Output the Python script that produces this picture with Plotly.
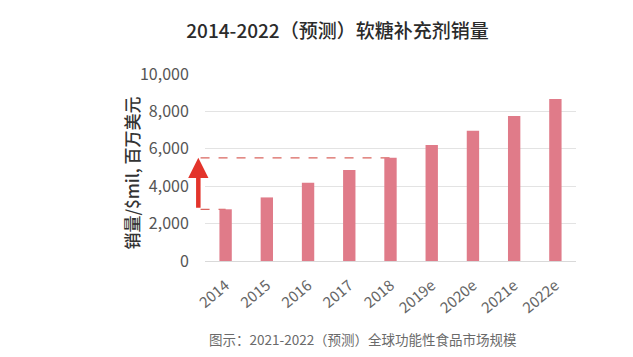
import plotly.graph_objects as go

categories = ["2014", "2015", "2016", "2017", "2018", "2019e", "2020e", "2021e", "2022e"]
sales = [2765, 3400, 4180, 4870, 5520, 6200, 6970, 7750, 8660]
y_ticks = [0, 2000, 4000, 6000, 8000, 10000]
y_tick_labels = ["0", "2,000", "4,000", "6,000", "8,000", "10,000"]

title_text = "2014-2022（预测）软糖补充剂销量"
y_title = "销量/$mil, 百万美元"
caption = "图示：2021-2022（预测）全球功能性食品市场规模"

FONT = "Noto Sans CJK SC"
W, H = 633, 357
L, R, T, B = 197, 65, 66, 104
PW = W - L - R
PH = H - T - B

fig = go.Figure()
fig.add_trace(go.Bar(
    x=categories, y=sales,
    marker=dict(color="#e07b89", line=dict(width=0)),
    width=0.3,
))

fig.update_layout(
    width=W, height=H,
    margin=dict(l=L, r=R, t=T, b=B),
    paper_bgcolor="white", plot_bgcolor="white",
    showlegend=False,
    font=dict(family=FONT, color="#555555"),
    title=dict(text=title_text, x=329.5 / W, xanchor="center", y=1 - 23 / H, yanchor="middle",
               font=dict(family=FONT, size=19, color="#2b2b2b", weight=500)),
)
fig.update_xaxes(
    type="category", range=[-0.5, 8.5],
    tickangle=-40, tickfont=dict(size=15, color="#666666"),
    showgrid=False, showline=False, zeroline=False,
    ticks="outside", ticklen=9, tickcolor="rgba(0,0,0,0)",
)
fig.update_yaxes(
    range=[0, 10000], tickvals=y_ticks, ticktext=y_tick_labels,
    tickfont=dict(size=16, color="#555555"),
    showgrid=True, gridcolor="#e3e3e3", gridwidth=1,
    zeroline=True, zerolinecolor="#d9d9d9", zerolinewidth=1,
    showline=False, ticks="outside", ticklen=12, tickcolor="rgba(0,0,0,0)",
)

# dashed reference lines (2014 level and 2018 level)
x_start = -0.012
fig.add_shape(type="line", xref="paper", yref="y", x0=x_start, x1=(4 + 0.5) / 9,
              y0=sales[4], y1=sales[4], layer="below",
              line=dict(color="#d9655f", width=1.3, dash="dash"))
fig.add_shape(type="line", xref="paper", yref="y", x0=x_start, x1=(0 + 0.5) / 9,
              y0=sales[0], y1=sales[0], layer="below",
              line=dict(color="#d9655f", width=1.3, dash="dash"))

# red growth arrow
fig.add_annotation(
    xref="paper", yref="y", x=-0.018, y=sales[4],
    ax=0, ayref="y", ay=sales[0],
    showarrow=True, arrowhead=2, arrowsize=0.9, arrowwidth=4.5,
    arrowcolor="#e3342b", text="",
)

# y-axis title
fig.add_annotation(
    xref="paper", yref="paper", x=(109 - L) / PW, y=0.47,
    text=y_title, textangle=-90, showarrow=False,
    font=dict(family=FONT, size=17, color="#333333", weight=500),
)

# caption
fig.add_annotation(
    xref="paper", yref="paper", x=(355 - L) / PW, y=-(331 - (T + PH)) / PH,
    text=caption, showarrow=False, yanchor="middle",
    font=dict(family=FONT, size=13.5, color="#6a6a6a"),
)

fig.write_html("out.html")
